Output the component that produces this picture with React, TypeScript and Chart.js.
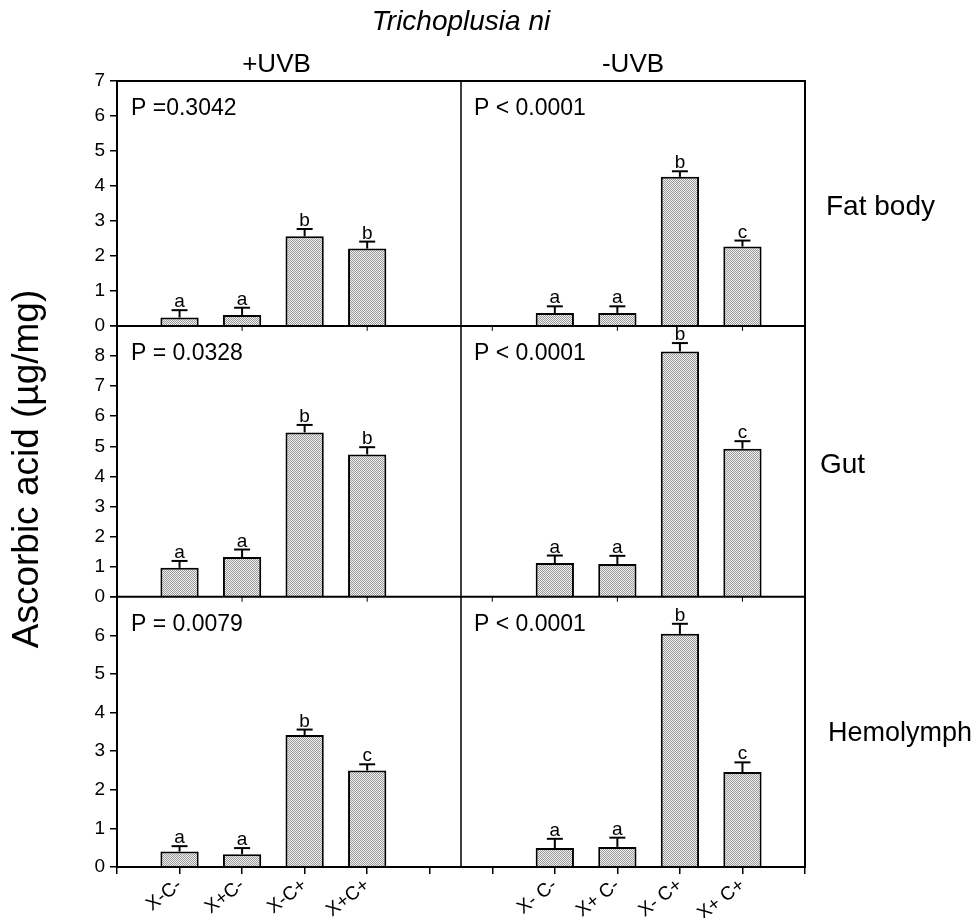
import React, { useEffect, useRef } from 'react';
import { Chart, registerables } from 'chart.js';

Chart.register(...registerables);

// ---------- data ----------
const titleText = 'Trichoplusia ni';
const yTitle = 'Ascorbic acid (µg/mg)';
const treatmentLabels = ['+UVB', '-UVB'];
const rowLabels = ['Fat body', 'Gut', 'Hemolymph'];
const categoriesPlus = ['X-C-', 'X+C-', 'X-C+', 'X+C+'];
const categoriesMinus = ['X- C-', 'X+ C-', 'X- C+', 'X+ C+'];

const fatPlus = [0.24, 0.31, 2.56, 2.21];
const fatPlusSE = [0.21, 0.21, 0.21, 0.2];
const fatMinus = [0.37, 0.37, 4.26, 2.27];
const fatMinusSE = [0.19, 0.19, 0.16, 0.17];

const gutPlus = [0.96, 1.32, 5.46, 4.73];
const gutPlusSE = [0.23, 0.25, 0.25, 0.24];
const gutMinus = [1.12, 1.09, 8.15, 4.92];
const gutMinusSE = [0.25, 0.27, 0.28, 0.25];

const hemoPlus = [0.4, 0.33, 3.42, 2.5];
const hemoPlusSE = [0.14, 0.16, 0.14, 0.16];
const hemoMinus = [0.49, 0.52, 6.04, 2.46];
const hemoMinusSE = [0.24, 0.24, 0.26, 0.25];

const fatPlusLetters = ['a', 'a', 'b', 'b'];
const fatMinusLetters = ['a', 'a', 'b', 'c'];
const gutPlusLetters = ['a', 'a', 'b', 'b'];
const gutMinusLetters = ['a', 'a', 'b', 'c'];
const hemoPlusLetters = ['a', 'a', 'b', 'c'];
const hemoMinusLetters = ['a', 'a', 'b', 'c'];

const fatP = ['P =0.3042', 'P < 0.0001'];
const gutP = ['P = 0.0328', 'P < 0.0001'];
const hemoP = ['P = 0.0079', 'P < 0.0001'];

const fatMax = 7;
const gutMax = 9;
const hemoMax = 7;

// positions of categories on the continuous x scale (left panel, right panel)
const leftStart = 1;
const rightStart = 7;
const xMin = 0;
const xMax = 11;
const divider = 5.5;

// ---------- build ----------
const FONT = "'Liberation Sans', Arial, Helvetica, sans-serif";

type RowSpec = {
  id: string;
  plus: number[];
  minus: number[];
  plusSE: number[];
  minusSE: number[];
  plusLetters: string[];
  minusLetters: string[];
  p: string[];
  label: string;
  max: number;
};

const rows: RowSpec[] = [
  { id: 'yFat', plus: fatPlus, minus: fatMinus, plusSE: fatPlusSE, minusSE: fatMinusSE, plusLetters: fatPlusLetters, minusLetters: fatMinusLetters, p: fatP, label: rowLabels[0], max: fatMax },
  { id: 'yGut', plus: gutPlus, minus: gutMinus, plusSE: gutPlusSE, minusSE: gutMinusSE, plusLetters: gutPlusLetters, minusLetters: gutMinusLetters, p: gutP, label: rowLabels[1], max: gutMax },
  { id: 'yHemo', plus: hemoPlus, minus: hemoMinus, plusSE: hemoPlusSE, minusSE: hemoMinusSE, plusLetters: hemoPlusLetters, minusLetters: hemoMinusLetters, p: hemoP, label: rowLabels[2], max: hemoMax },
];

function rowPoints(r: RowSpec) {
  const pts: { x: number; y: number; se: number; letter: string }[] = [];
  r.plus.forEach((v, i) => pts.push({ x: leftStart + i, y: v, se: r.plusSE[i], letter: r.plusLetters[i] }));
  r.minus.forEach((v, i) => pts.push({ x: rightStart + i, y: v, se: r.minusSE[i], letter: r.minusLetters[i] }));
  return pts;
}

function makePattern(): CanvasPattern | string {
  const c = document.createElement('canvas');
  c.width = 2;
  c.height = 2;
  const g = c.getContext('2d');
  if (!g) return '#c4c4c4';
  g.fillStyle = '#f0f0f0';
  g.fillRect(0, 0, 2, 2);
  g.fillStyle = '#9a9a9a';
  g.fillRect(0, 0, 1, 1);
  g.fillRect(1, 1, 1, 1);
  return g.createPattern(c, 'repeat') || '#c4c4c4';
}

const rowLabelFont = [28, 28, 27];
const rowLabelDx = [21, 15, 23];
const rowLabelDy = [12, 12, 9];

const decorPlugin = {
  id: 'decor',
  afterDatasetsDraw(chart: any) {
    const { ctx, chartArea: ca, scales } = chart;
    const x = scales.x;
    const xDiv = x.getPixelForValue(divider);
    ctx.save();
    ctx.strokeStyle = '#000';
    ctx.fillStyle = '#000';
    ctx.lineWidth = 2;
    const line = (x1: number, y1: number, x2: number, y2: number) => {
      ctx.beginPath();
      ctx.moveTo(x1, y1);
      ctx.lineTo(x2, y2);
      ctx.stroke();
    };
    // frames
    ctx.strokeRect(ca.left, ca.top, ca.right - ca.left, ca.bottom - ca.top);
    ctx.lineWidth = 1.5;
    line(xDiv, ca.top, xDiv, ca.bottom);
    rows.forEach((r, ri) => {
      const ys = scales[r.id];
      if (ri < rows.length - 1) {
        ctx.lineWidth = 2;
        line(ca.left, ys.bottom, ca.right, ys.bottom);
        // small tick marks under the upper rows
        ctx.lineWidth = 1;
        for (let v = xMin; v <= xMax; v += 2) {
          const px = x.getPixelForValue(v);
          line(px, ys.bottom, px, ys.bottom + 5);
        }
      }
    });

    // error bars + letters
    chart.data.datasets.forEach((ds: any, di: number) => {
      const r = rows[di];
      const ys = scales[r.id];
      const pts = rowPoints(r);
      pts.forEach((pt) => {
        const px = x.getPixelForValue(pt.x);
        const base = ys.getPixelForValue(pt.y);
        const top = ys.getPixelForValue(pt.y + pt.se);
        ctx.lineWidth = 2;
        line(px, base, px, top);
        line(px - 8, top, px + 8, top);
        ctx.font = `19px ${FONT}`;
        ctx.textAlign = 'center';
        ctx.textBaseline = 'alphabetic';
        ctx.fillText(pt.letter, px, top - 3);
      });
      // P value text
      ctx.font = `23px ${FONT}`;
      ctx.textAlign = 'left';
      ctx.fillText(r.p[0], ca.left + 14, ys.top + 34);
      ctx.fillText(r.p[1], xDiv + 13, ys.top + 34);
      // row label
      ctx.font = `${rowLabelFont[di]}px ${FONT}`;
      ctx.fillText(r.label, ca.right + rowLabelDx[di], (ys.top + ys.bottom) / 2 + rowLabelDy[di]);
    });

    // title and treatment headers
    ctx.textAlign = 'center';
    ctx.font = `italic 28px ${FONT}`;
    ctx.fillText(titleText, (ca.left + ca.right) / 2, 30);
    ctx.font = `26px ${FONT}`;
    ctx.fillText(treatmentLabels[0], x.getPixelForValue(2.55), 72);
    ctx.fillText(treatmentLabels[1], x.getPixelForValue(8.25), 72);

    // y axis title
    ctx.save();
    ctx.translate(38, (ca.top + ca.bottom) / 2 - 5);
    ctx.rotate(-Math.PI / 2);
    ctx.font = `37px ${FONT}`;
    ctx.textAlign = 'center';
    ctx.fillText(yTitle, 0, 0);
    ctx.restore();

    ctx.restore();
  },
};

function yScale(r: RowSpec, weight: number) {
  return {
    type: 'linear',
    axis: 'y',
    position: 'left',
    stack: 'rows',
    stackWeight: weight,
    min: 0,
    max: r.max,
    offset: false,
    grid: { drawOnChartArea: false, drawTicks: true, tickLength: 7, color: '#000', lineWidth: 1.5 },
    border: { display: false },
    ticks: {
      stepSize: 1,
      autoSkip: false,
      maxTicksLimit: 20,
      padding: 5,
      color: '#000',
      font: { size: 19, family: FONT },
      callback: (v: any) => (r.id !== 'yFat' && Number(v) === r.max ? '' : String(v)),
    },
    afterFit: (s: any) => {
      s.width = 117;
    },
  };
}

export default function App() {
  const ref = useRef<HTMLCanvasElement | null>(null);
  useEffect(() => {
    document.body.style.margin = '0';
    if (!ref.current) return;
    const pattern = makePattern();
    const datasets = rows.map((r) => ({
      label: r.label,
      yAxisID: r.id,
      data: rowPoints(r).map((p) => ({ x: p.x, y: p.y })),
      backgroundColor: pattern,
      borderColor: '#000',
      borderWidth: 2,
      borderSkipped: 'bottom',
      grouped: false,
      barPercentage: 0.68,
      categoryPercentage: 0.9,
    }));
    const chart = new Chart(ref.current, {
      type: 'bar',
      data: { datasets } as any,
      options: {
        animation: false,
        responsive: false,
        layout: { padding: { top: 81, right: 166, bottom: 0, left: 0 } },
        plugins: { legend: { display: false }, tooltip: { enabled: false }, title: { display: false } },
        scales: {
          x: {
            type: 'linear',
            min: xMin,
            max: xMax,
            offset: false,
            grid: { offset: false, drawOnChartArea: false, drawTicks: true, tickLength: 7, color: '#000', lineWidth: 1.5 },
            border: { display: false },
            ticks: {
              stepSize: 1,
              autoSkip: false,
              minRotation: 38,
              maxRotation: 38,
              padding: 0,
              color: '#000',
              font: { size: 19, family: FONT },
              callback: (v: any) => {
                const n = Number(v);
                if (n >= leftStart && n < leftStart + categoriesPlus.length) return categoriesPlus[n - leftStart];
                if (n >= rightStart && n < rightStart + categoriesMinus.length) return categoriesMinus[n - rightStart];
                return '';
              },
            },
            afterFit: (s: any) => {
              s.height = 51;
            },
          },
          yHemo: yScale(rows[2], 270),
          yGut: yScale(rows[1], 270.6),
          yFat: yScale(rows[0], 244.7),
        } as any,
      },
      plugins: [decorPlugin],
    });
    return () => chart.destroy();
  }, []);
  return (
    <div style={{ width: 971, height: 918 }}>
      <canvas ref={ref} width={971} height={918} style={{ display: 'block' }} />
    </div>
  );
}
